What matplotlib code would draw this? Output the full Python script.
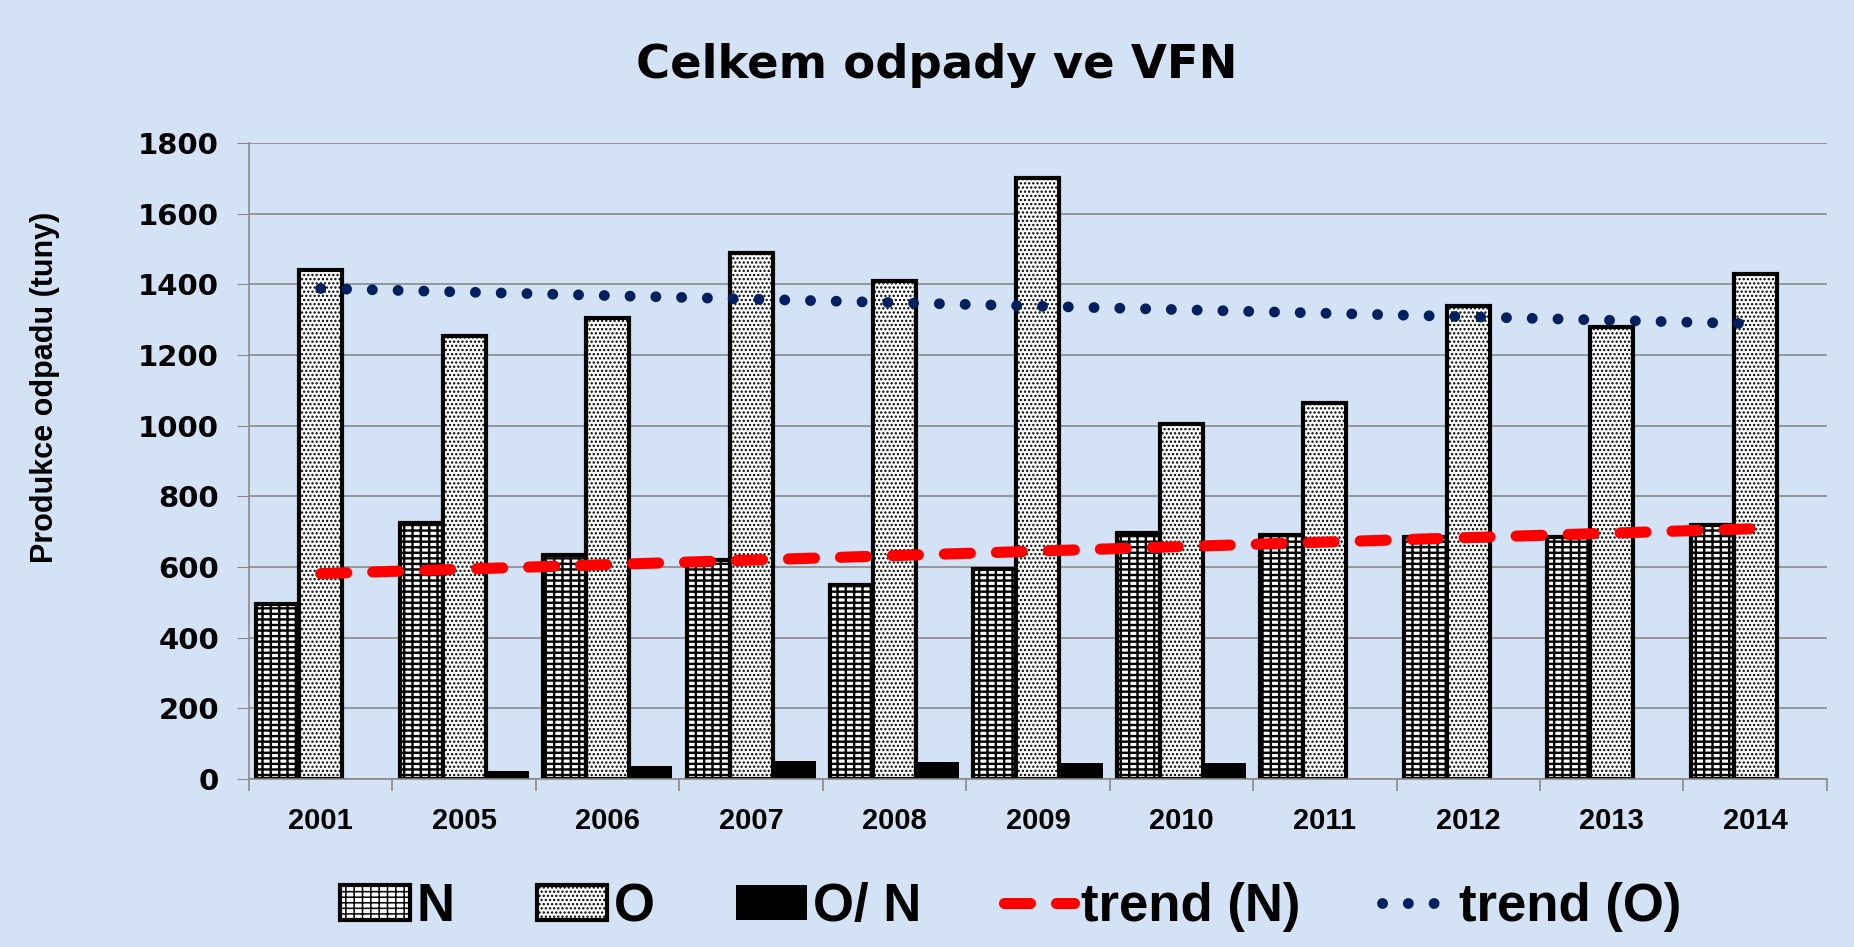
import numpy as np
import matplotlib.pyplot as plt

# data
years = ['2001', '2005', '2006', '2007', '2008', '2009', '2010', '2011', '2012', '2013', '2014']
n_vals = [495, 725, 635, 620, 550, 595, 695, 690, 685, 685, 720]
o_vals = [1440, 1255, 1305, 1490, 1410, 1700, 1005, 1065, 1340, 1280, 1430]
on_vals = [0, 22, 36, 50, 47, 44, 44, 0, 0, 0, 0]
yticks = [0, 200, 400, 600, 800, 1000, 1200, 1400, 1600, 1800]

bg = '#d3e3f5'
grid_col = '#8a8a8a'

fig = plt.figure(figsize=(18.54, 9.47), dpi=100, facecolor=bg)
ax = fig.add_axes([0.1343, 0.1774, 0.8511, 0.6716])
ax.set_facecolor('none')

x = np.arange(len(years))
w = 0.3
# brick-like hatch for N, fine dots for O
plt.rcParams['hatch.linewidth'] = 1.7
bars_n = ax.bar(x - w, n_vals, w, color='white', edgecolor='black', hatch='---||',
                linewidth=3, zorder=2)
plt.rcParams['hatch.linewidth'] = 1.1
bars_o = ax.bar(x, o_vals, w, color='white', edgecolor='black', hatch='....',
                linewidth=3, zorder=2)
bars_on = ax.bar(x + w, on_vals, w, color='black', linewidth=0, zorder=2)

# linear trends
kn = np.polyfit(x, n_vals, 1)
ko = np.polyfit(x, o_vals, 1)
line_n, = ax.plot(x, np.polyval(kn, x), color='#ff0000', lw=8, linestyle=(0, (2.34, 2.34)),
                  dash_capstyle='round', zorder=3)
line_o, = ax.plot(x, np.polyval(ko, x), color='#002060', lw=7.8, linestyle=(0, (0.01, 2.37)),
                  dash_capstyle='round', zorder=3)

ax.set_xlim(-0.5, len(years) - 0.5)
ax.set_ylim(0, 1800)
ax.set_yticks(yticks)
ax.set_yticklabels([str(v) for v in yticks], fontsize=21, fontweight='bold', family='DejaVu Sans')
ax.tick_params(axis='y', length=8.6, color=grid_col, pad=13)
ax.set_xticks(x)
ax.set_xticklabels(years, fontsize=21, fontweight='bold', family='Liberation Sans')
ax.set_xticks(np.arange(-0.5, len(years), 1), minor=True)
ax.tick_params(axis='x', which='major', length=0, pad=20)
ax.tick_params(axis='x', which='minor', length=8.6, color=grid_col, width=1.2)
ax.yaxis.grid(True, color=grid_col, lw=1.2)
ax.set_axisbelow(True)
for s in ['top', 'right']:
    ax.spines[s].set_visible(False)
for s in ['left', 'bottom']:
    ax.spines[s].set_color(grid_col)
    ax.spines[s].set_linewidth(1.2)

ax.set_ylabel('Produkce odpadu (tuny)', fontsize=22, fontweight='bold', family='Liberation Sans')
ax.yaxis.set_label_coords(-0.12, 0.616)

fig.text(0.505, 0.931, 'Celkem odpady ve VFN', fontsize=33.5, fontweight='bold',
         family='DejaVu Sans', ha='center', va='center')

fig.legend([bars_n[0], bars_o[0], bars_on[0], line_n, line_o],
           ['N', 'O', 'O/ N', 'trend (N)', 'trend (O)'],
           loc='center', bbox_to_anchor=(0.545, 0.042), ncol=5, frameon=False,
           prop={'family': 'Liberation Sans', 'weight': 'bold', 'size': 38},
           handlelength=1.34, handleheight=0.66, handletextpad=0.12, columnspacing=1.55)

fig.savefig('out.png', dpi=100, facecolor=bg)
